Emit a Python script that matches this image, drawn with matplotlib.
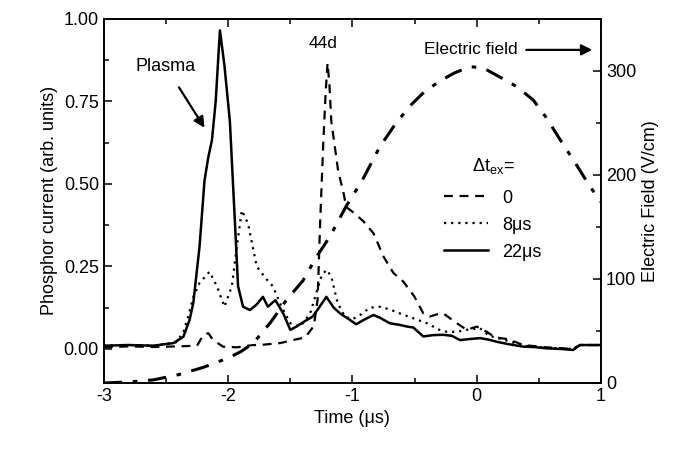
import matplotlib
matplotlib.use("Agg")
import matplotlib.pyplot as plt
from matplotlib.ticker import MultipleLocator, FormatStrFormatter

plt.rcParams['font.family'] = ['Liberation Sans', 'DejaVu Sans']
plt.rcParams['mathtext.fontset'] = 'custom'
plt.rcParams['mathtext.rm'] = 'Liberation Sans'
plt.rcParams['mathtext.it'] = 'Liberation Sans'
plt.rcParams['axes.unicode_minus'] = False

# 22 us delay (solid)
t_22 = [-3.0, -2.8, -2.6, -2.44, -2.36, -2.31, -2.28, -2.23, -2.19, -2.16, -2.13, -2.10,
        -2.066, -2.03, -1.986, -1.946, -1.92, -1.88, -1.825, -1.77, -1.72, -1.68, -1.62,
        -1.557, -1.50, -1.45, -1.38, -1.32, -1.26, -1.21, -1.15, -1.10, -1.02, -0.97,
        -0.90, -0.83, -0.78, -0.70, -0.62, -0.56, -0.51, -0.43, -0.35, -0.27, -0.2,
        -0.135, -0.06, 0.026, 0.1, 0.16, 0.25, 0.375, 0.46, 0.56, 0.68, 0.775, 0.83, 0.9, 1.0]
v_22 = [0.010, 0.012, 0.010, 0.018, 0.037, 0.088, 0.14, 0.31, 0.51, 0.58, 0.633, 0.75,
        0.965, 0.86, 0.69, 0.39, 0.19, 0.128, 0.118, 0.135, 0.158, 0.128, 0.148,
        0.108, 0.058, 0.068, 0.085, 0.098, 0.13, 0.158, 0.125, 0.108, 0.088, 0.075,
        0.09, 0.103, 0.095, 0.078, 0.073, 0.068, 0.065, 0.038, 0.042, 0.043, 0.04,
        0.027, 0.03, 0.033, 0.028, 0.022, 0.015, 0.007, 0.006, 0.002, 0.0, -0.003, 0.012, 0.012, 0.012]

# 8 us delay (dotted)
t_8 = [-3.0, -2.8, -2.6, -2.42, -2.36, -2.32, -2.28, -2.23, -2.15, -2.09, -2.03, -1.97,
       -1.93, -1.89, -1.84, -1.77, -1.70, -1.64, -1.57, -1.50, -1.42, -1.34, -1.29, -1.25,
       -1.21, -1.17, -1.12, -1.06, -1.0, -0.93, -0.86, -0.78, -0.70, -0.62, -0.51, -0.40,
       -0.30, -0.24, -0.16, -0.08, 0.026, 0.1, 0.2, 0.375, 0.56, 0.775, 0.83, 1.0]
v_8 = [0.010, 0.012, 0.010, 0.02, 0.05, 0.10, 0.158, 0.20, 0.234, 0.19, 0.128, 0.19,
       0.31, 0.42, 0.38, 0.25, 0.215, 0.19, 0.128, 0.078, 0.068, 0.108, 0.17, 0.22,
       0.24, 0.22, 0.14, 0.098, 0.09, 0.105, 0.125, 0.128, 0.12, 0.108, 0.093, 0.078,
       0.058, 0.052, 0.052, 0.058, 0.063, 0.04, 0.03, 0.01, 0.004, 0.0, 0.012, 0.012]

# 0 delay (dashed)
t_0 = [-3.0, -2.8, -2.6, -2.4, -2.25, -2.2, -2.16, -2.12, -2.04, -1.93, -1.8, -1.745,
       -1.58, -1.48, -1.38, -1.31, -1.28, -1.26, -1.235, -1.215, -1.20, -1.185, -1.17,
       -1.115, -1.07, -1.05, -0.98, -0.91, -0.83, -0.75, -0.67, -0.59, -0.50, -0.43,
       -0.38, -0.32, -0.27, -0.16, -0.08, 0.0, 0.08, 0.15, 0.25, 0.375, 0.56, 0.775, 0.83, 1.0]
v_0 = [0.005, 0.008, 0.006, 0.008, 0.01, 0.042, 0.048, 0.027, 0.007, 0.005, 0.012, 0.012,
       0.018, 0.027, 0.035, 0.07, 0.15, 0.38, 0.62, 0.78, 0.866, 0.80, 0.69,
       0.54, 0.47, 0.43, 0.41, 0.386, 0.35, 0.28, 0.23, 0.204, 0.158, 0.108,
       0.098, 0.105, 0.108, 0.078, 0.058, 0.068, 0.052, 0.035, 0.03, 0.012, 0.005, 0.0, 0.012, 0.012]

# electric field (right axis)
t_e = [-3.0, -2.8, -2.6, -2.4, -2.2, -2.0, -1.9, -1.8, -1.66, -1.53, -1.40, -1.29,
       -1.18, -1.05, -0.92, -0.78, -0.66, -0.54, -0.42, -0.30, -0.18, -0.055, 0.05,
       0.187, 0.32, 0.455, 0.56, 0.67, 0.79, 0.91, 1.0]
v_e = [0, 1, 3, 8, 15, 24, 30, 38, 58, 80, 98, 121,
       141, 170, 195, 227, 248, 266, 280, 290, 298, 304, 303,
       294, 285, 272, 255, 234, 212, 189, 174]

fig = plt.figure(figsize=(6.83, 4.49), dpi=100)
ax = fig.add_axes([0.152, 0.147, 0.728, 0.811])
ax2 = ax.twinx()

ax.plot(t_0, v_0, color='black', lw=1.6, ls=(0, (4, 3)), label='0')
ax.plot(t_8, v_8, color='black', lw=1.6, ls=(0, (1, 2.2)), label='8\u03bcs')
ax.plot(t_22, v_22, color='black', lw=1.8, ls='-', label='22\u03bcs')
ax2.plot(t_e, v_e, color='black', lw=2.2, ls=(0, (6, 3.5, 1.5, 3.5)))

ax.set_xlim(-3, 1)
ax.set_ylim(-0.103, 1.0)
ax2.set_ylim(0, 350)

ax.xaxis.set_major_locator(MultipleLocator(1))
ax.xaxis.set_minor_locator(MultipleLocator(0.5))
ax.yaxis.set_major_locator(MultipleLocator(0.25))
ax.yaxis.set_minor_locator(MultipleLocator(0.125))
ax.yaxis.set_major_formatter(FormatStrFormatter('%.2f'))
ax2.yaxis.set_major_locator(MultipleLocator(100))
ax2.yaxis.set_minor_locator(MultipleLocator(50))

ax.tick_params(which='both', direction='in', top=True, labelsize=13, width=1.1)
ax.tick_params(which='major', length=6)
ax.tick_params(which='minor', length=3.5)
ax2.tick_params(which='both', direction='in', labelsize=13, width=1.1)
ax2.tick_params(which='major', length=6)
ax2.tick_params(which='minor', length=3.5)
for s in ax.spines.values():
    s.set_linewidth(1.2)
for s in ax2.spines.values():
    s.set_linewidth(1.2)

ax.set_xlabel('Time (\u03bcs)', fontsize=13)
ax.set_ylabel('Phosphor current (arb. units)', fontsize=13)
ax2.set_ylabel('Electric Field (V/cm)', fontsize=13)

ax.annotate('Plasma', xy=(-2.19, 0.67), xytext=(-2.5, 0.855), fontsize=13,
            ha='center', va='center',
            arrowprops=dict(arrowstyle='-|>', color='black', lw=1.6, shrinkA=8, shrinkB=0,
                            mutation_scale=16))
ax.text(-1.24, 0.925, '44d', fontsize=12.5, ha='center', va='center')
ax.annotate('Electric field', xy=(0.93, 0.906), xytext=(-0.045, 0.906), fontsize=12.5,
            ha='center', va='center',
            arrowprops=dict(arrowstyle='-|>', color='black', lw=1.6, shrinkA=4, shrinkB=0,
                            mutation_scale=16))

leg = ax.legend(loc='upper left', bbox_to_anchor=(0.685, 0.624), frameon=False,
                title='\u0394t$_{\\rm ex}$=', fontsize=13, title_fontsize=13,
                handlelength=2.4, handletextpad=0.8, labelspacing=0.55,
                borderpad=0, borderaxespad=0)
leg._legend_box.sep = 10

fig.savefig('out.png', dpi=100)
